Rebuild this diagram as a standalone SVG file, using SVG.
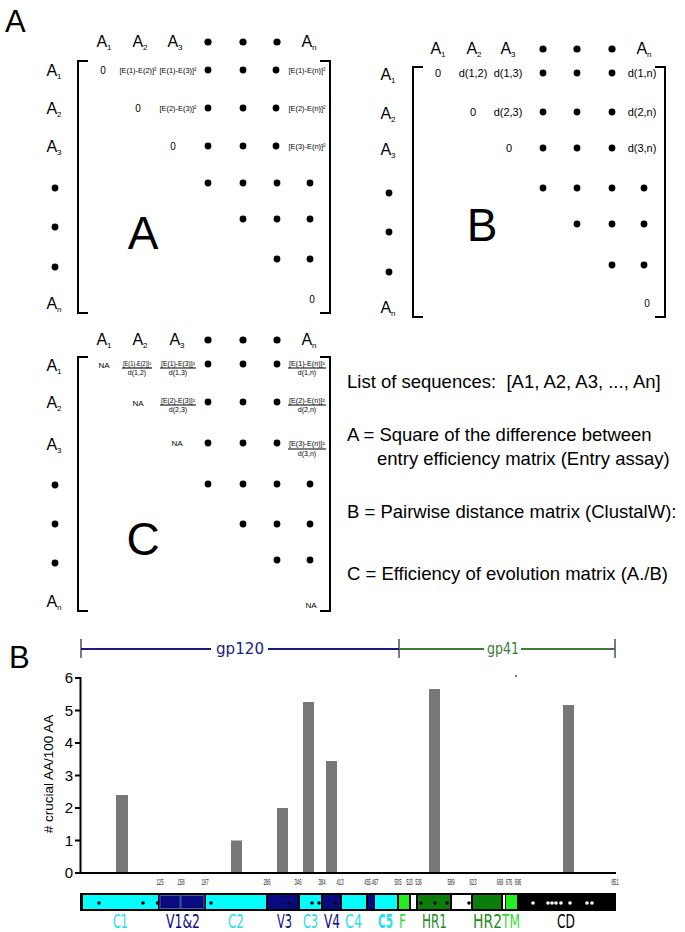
<svg xmlns="http://www.w3.org/2000/svg" width="685" height="932" viewBox="0 0 685 932">
<style>
text{font-family:"Liberation Sans",Arial,sans-serif;fill:#000}
.hd{font-size:16px;text-anchor:middle}
.sb{font-size:8px}
.e{font-size:7.4px;text-anchor:middle}
.z{font-size:10px;text-anchor:middle}
.d{font-size:11px;text-anchor:middle}
.na{font-size:8px;text-anchor:middle}
.fn{font-size:6.5px;text-anchor:middle}
.fd{font-size:7px;text-anchor:middle}
.fl{stroke:#000;stroke-width:1.1}
.br{fill:none;stroke:#000;stroke-width:2}
.big{font-size:46px;text-anchor:middle}
.pl{font-size:31px}
.lg{font-size:18.5px}
.cn{font-family:"DejaVu Sans Condensed","Liberation Sans Narrow","Liberation Sans",sans-serif}
.tk{font-size:9.5px;text-anchor:middle;fill:#222}
.ax{font-size:15px;text-anchor:end}
.gl{font-size:20px}
.bar{fill:#777}
.dt{fill:#000}
.cy{fill:#00ffff}
.nv{fill:#0a0a80}
.gr{fill:#0b7d0b}
.lm{fill:#22ee22}
.wh{fill:#fff}
</style>

<g id="panelA-label"><text class="pl" x="5" y="32">A</text></g>

<g id="matrixA">
  <text class="hd" x="104" y="47">A<tspan class="sb" dy="3">1</tspan></text>
  <text class="hd" x="140" y="47">A<tspan class="sb" dy="3">2</tspan></text>
  <text class="hd" x="175" y="47">A<tspan class="sb" dy="3">3</tspan></text>
  <circle class="dt" cx="208" cy="42" r="3.6"/><circle class="dt" cx="243" cy="42" r="3.6"/><circle class="dt" cx="277" cy="42" r="3.6"/>
  <text class="hd" x="309" y="47">A<tspan class="sb" dy="3">n</tspan></text>
  <text class="hd" x="54" y="76">A<tspan class="sb" dy="3">1</tspan></text>
  <text class="hd" x="54" y="114">A<tspan class="sb" dy="3">2</tspan></text>
  <text class="hd" x="54" y="152">A<tspan class="sb" dy="3">3</tspan></text>
  <circle class="dt" cx="55" cy="188" r="3.4"/><circle class="dt" cx="55" cy="227" r="3.4"/><circle class="dt" cx="55" cy="267" r="3.4"/>
  <text class="hd" x="54" y="309">A<tspan class="sb" dy="3">n</tspan></text>
  <path class="br" d="M88,61 H78 V313 H88"/>
  <path class="br" d="M320,61 H330 V313 H320"/>
  <text class="z" x="103" y="74">0</text>
  <text class="e" x="138" y="72.5">[E(1)-E(2)]²</text>
  <text class="e" x="178" y="72.5">[E(1)-E(3)]²</text>
  <circle class="dt" cx="208" cy="70" r="3.4"/><circle class="dt" cx="243" cy="70" r="3.4"/><circle class="dt" cx="276" cy="70" r="3.4"/>
  <text class="e" x="307" y="72.5">[E(1)-E(n)]²</text>
  <text class="z" x="138" y="112">0</text>
  <text class="e" x="178" y="110.5">[E(2)-E(3)]²</text>
  <circle class="dt" cx="208" cy="108" r="3.4"/><circle class="dt" cx="243" cy="108" r="3.4"/><circle class="dt" cx="276" cy="108" r="3.4"/>
  <text class="e" x="307" y="110.5">[E(2)-E(n)]²</text>
  <text class="z" x="173" y="150">0</text>
  <circle class="dt" cx="208" cy="146" r="3.4"/><circle class="dt" cx="243" cy="146" r="3.4"/><circle class="dt" cx="276" cy="146" r="3.4"/>
  <text class="e" x="307" y="148.5">[E(3)-E(n)]²</text>
  <circle class="dt" cx="208" cy="183" r="3.4"/><circle class="dt" cx="243" cy="183" r="3.4"/><circle class="dt" cx="277" cy="183" r="3.4"/><circle class="dt" cx="310" cy="183" r="3.4"/>
  <circle class="dt" cx="243" cy="219" r="3.4"/><circle class="dt" cx="277" cy="219" r="3.4"/><circle class="dt" cx="310" cy="219" r="3.4"/>
  <circle class="dt" cx="277" cy="259" r="3.4"/><circle class="dt" cx="310" cy="259" r="3.4"/>
  <text class="z" x="312" y="303">0</text>
  <text class="big" x="143" y="249">A</text>
</g>

<g id="matrixB">
  <text class="hd" x="438" y="54">A<tspan class="sb" dy="3">1</tspan></text>
  <text class="hd" x="474" y="54">A<tspan class="sb" dy="3">2</tspan></text>
  <text class="hd" x="508" y="54">A<tspan class="sb" dy="3">3</tspan></text>
  <circle class="dt" cx="543" cy="49" r="3.6"/><circle class="dt" cx="577" cy="49" r="3.6"/><circle class="dt" cx="612" cy="49" r="3.6"/>
  <text class="hd" x="644" y="54">A<tspan class="sb" dy="3">n</tspan></text>
  <text class="hd" x="388" y="80">A<tspan class="sb" dy="3">1</tspan></text>
  <text class="hd" x="388" y="119">A<tspan class="sb" dy="3">2</tspan></text>
  <text class="hd" x="388" y="155">A<tspan class="sb" dy="3">3</tspan></text>
  <circle class="dt" cx="389" cy="193" r="3.4"/><circle class="dt" cx="389" cy="232" r="3.4"/><circle class="dt" cx="389" cy="272" r="3.4"/>
  <text class="hd" x="388" y="313">A<tspan class="sb" dy="3">n</tspan></text>
  <path class="br" d="M423,67 H413 V317 H423"/>
  <path class="br" d="M655,67 H665 V317 H655"/>
  <text class="d" x="438" y="77">0</text>
  <text class="d" x="473" y="77">d(1,2)</text>
  <text class="d" x="508" y="77">d(1,3)</text>
  <circle class="dt" cx="543" cy="73" r="3.4"/><circle class="dt" cx="577" cy="73" r="3.4"/><circle class="dt" cx="612" cy="73" r="3.4"/>
  <text class="d" x="642" y="77">d(1,n)</text>
  <text class="d" x="473" y="116">0</text>
  <text class="d" x="508" y="116">d(2,3)</text>
  <circle class="dt" cx="543" cy="112" r="3.4"/><circle class="dt" cx="577" cy="112" r="3.4"/><circle class="dt" cx="612" cy="112" r="3.4"/>
  <text class="d" x="642" y="116">d(2,n)</text>
  <text class="d" x="509" y="152">0</text>
  <circle class="dt" cx="543" cy="148" r="3.4"/><circle class="dt" cx="577" cy="148" r="3.4"/><circle class="dt" cx="612" cy="148" r="3.4"/>
  <text class="d" x="642" y="152">d(3,n)</text>
  <circle class="dt" cx="543" cy="188" r="3.4"/><circle class="dt" cx="577" cy="188" r="3.4"/><circle class="dt" cx="612" cy="188" r="3.4"/><circle class="dt" cx="644" cy="188" r="3.4"/>
  <circle class="dt" cx="577" cy="224" r="3.4"/><circle class="dt" cx="612" cy="224" r="3.4"/><circle class="dt" cx="644" cy="224" r="3.4"/>
  <circle class="dt" cx="612" cy="265" r="3.4"/><circle class="dt" cx="644" cy="265" r="3.4"/>
  <text class="z" x="647" y="307">0</text>
  <text class="big" x="482" y="241">B</text>
</g>

<g id="matrixC">
  <text class="hd" x="104" y="345">A<tspan class="sb" dy="3">1</tspan></text>
  <text class="hd" x="140" y="345">A<tspan class="sb" dy="3">2</tspan></text>
  <text class="hd" x="177" y="345">A<tspan class="sb" dy="3">3</tspan></text>
  <circle class="dt" cx="208" cy="340" r="3.6"/><circle class="dt" cx="243" cy="340" r="3.6"/><circle class="dt" cx="277" cy="340" r="3.6"/>
  <text class="hd" x="309" y="345">A<tspan class="sb" dy="3">n</tspan></text>
  <text class="hd" x="54" y="371">A<tspan class="sb" dy="3">1</tspan></text>
  <text class="hd" x="54" y="408">A<tspan class="sb" dy="3">2</tspan></text>
  <text class="hd" x="54" y="450">A<tspan class="sb" dy="3">3</tspan></text>
  <circle class="dt" cx="55" cy="485" r="3.4"/><circle class="dt" cx="55" cy="524" r="3.4"/><circle class="dt" cx="55" cy="563" r="3.4"/>
  <text class="hd" x="54" y="607">A<tspan class="sb" dy="3">n</tspan></text>
  <path class="br" d="M88,357 H78 V611 H88"/>
  <path class="br" d="M320,357 H330 V611 H320"/>
  <text class="na" x="104" y="368">NA</text>
  <text class="fn" x="137" y="366" textLength="28" lengthAdjust="spacingAndGlyphs">[E(1)-E(2)]²</text>
  <line class="fl" x1="122" y1="368" x2="152" y2="368"/>
  <text class="fd" x="137" y="375">d(1,2)</text>
  <text class="fn" x="178" y="366" textLength="34" lengthAdjust="spacingAndGlyphs">[E(1)-E(3)]²</text>
  <line class="fl" x1="160" y1="368" x2="196" y2="368"/>
  <text class="fd" x="178" y="375">d(1,3)</text>
  <circle class="dt" cx="208" cy="364" r="3.4"/><circle class="dt" cx="243" cy="364" r="3.4"/><circle class="dt" cx="277" cy="364" r="3.4"/>
  <text class="fn" x="307" y="366" textLength="36" lengthAdjust="spacingAndGlyphs">[E(1)-E(n)]²</text>
  <line class="fl" x1="288" y1="368" x2="326" y2="368"/>
  <text class="fd" x="307" y="375">d(1,n)</text>
  <text class="na" x="138" y="406">NA</text>
  <text class="fn" x="178" y="403" textLength="34" lengthAdjust="spacingAndGlyphs">[E(2)-E(3)]²</text>
  <line class="fl" x1="160" y1="405" x2="196" y2="405"/>
  <text class="fd" x="178" y="412">d(2,3)</text>
  <circle class="dt" cx="208" cy="402" r="3.4"/><circle class="dt" cx="243" cy="402" r="3.4"/><circle class="dt" cx="277" cy="402" r="3.4"/>
  <text class="fn" x="307" y="403" textLength="36" lengthAdjust="spacingAndGlyphs">[E(2)-E(n)]²</text>
  <line class="fl" x1="288" y1="405" x2="326" y2="405"/>
  <text class="fd" x="307" y="412">d(2,n)</text>
  <text class="na" x="177" y="446">NA</text>
  <circle class="dt" cx="208" cy="443" r="3.4"/><circle class="dt" cx="243" cy="443" r="3.4"/><circle class="dt" cx="277" cy="443" r="3.4"/>
  <text class="fn" x="307" y="446" textLength="36" lengthAdjust="spacingAndGlyphs">[E(3)-E(n)]²</text>
  <line class="fl" x1="288" y1="449" x2="326" y2="449"/>
  <text class="fd" x="307" y="456">d(3,n)</text>
  <circle class="dt" cx="208" cy="484" r="3.4"/><circle class="dt" cx="243" cy="484" r="3.4"/><circle class="dt" cx="277" cy="484" r="3.4"/><circle class="dt" cx="310" cy="484" r="3.4"/>
  <circle class="dt" cx="243" cy="524" r="3.4"/><circle class="dt" cx="277" cy="524" r="3.4"/><circle class="dt" cx="310" cy="524" r="3.4"/>
  <circle class="dt" cx="277" cy="560" r="3.4"/><circle class="dt" cx="310" cy="560" r="3.4"/>
  <text class="na" x="311" y="608">NA</text>
  <text class="big" x="143" y="555">C</text>
</g>

<g id="legend">
  <text class="lg" x="347" y="388" xml:space="preserve">List of sequences:  [A1, A2, A3, ..., An]</text>
  <text class="lg" x="347" y="441">A = Square of the difference between</text>
  <text class="lg" x="377" y="465">entry efficiency matrix (Entry assay)</text>
  <text class="lg" x="347" y="518">B = Pairwise distance matrix (ClustalW):</text>
  <text class="lg" x="347" y="580">C = Efficiency of evolution matrix (A./B)</text>
</g>

<g id="panelB-label"><text class="pl" x="9" y="668">B</text></g>

<g id="gp-scale">
  <g stroke="#333" stroke-width="1.3">
    <line x1="81" y1="639" x2="81" y2="658"/>
    <line x1="399" y1="639" x2="399" y2="658"/>
    <line x1="615" y1="639" x2="615" y2="658"/>
  </g>
  <g stroke="#1a1a80" stroke-width="2">
    <line x1="81" y1="649" x2="211" y2="649"/>
    <line x1="268" y1="649" x2="399" y2="649"/>
  </g>
  <g stroke="#3b7a3b" stroke-width="2">
    <line x1="399" y1="649" x2="484" y2="649"/>
    <line x1="521" y1="649" x2="615" y2="649"/>
  </g>
  <text class="cn" x="240" y="654" font-size="15" text-anchor="middle" style="fill:#1a1a80" textLength="48" lengthAdjust="spacingAndGlyphs">gp120</text>
  <text class="cn" x="503" y="654" font-size="15" text-anchor="middle" style="fill:#3b7a3b" textLength="32" lengthAdjust="spacingAndGlyphs">gp41</text>
  <circle cx="516" cy="676" r="0.9" fill="#333"/>
</g>

<g id="chart">
  <rect class="bar" x="116" y="795" width="12" height="78"/>
  <rect class="bar" x="231" y="840.5" width="11" height="32.5"/>
  <rect class="bar" x="277" y="808" width="11" height="65"/>
  <rect class="bar" x="303" y="702" width="11" height="171"/>
  <rect class="bar" x="326" y="761" width="11" height="112"/>
  <rect class="bar" x="429" y="689" width="11" height="184"/>
  <rect class="bar" x="563" y="705" width="11" height="168"/>
  <g stroke="#000" stroke-width="2">
    <line x1="80.5" y1="677" x2="80.5" y2="874"/>
    <line x1="80" y1="873" x2="616" y2="873"/>
    <line x1="75" y1="678" x2="81" y2="678"/>
    <line x1="75" y1="710.5" x2="81" y2="710.5"/>
    <line x1="75" y1="743" x2="81" y2="743"/>
    <line x1="75" y1="775.5" x2="81" y2="775.5"/>
    <line x1="75" y1="808" x2="81" y2="808"/>
    <line x1="75" y1="840.5" x2="81" y2="840.5"/>
    <line x1="75" y1="873" x2="81" y2="873"/>
  </g>
  <text class="ax" x="73" y="683">6</text>
  <text class="ax" x="73" y="715.5">5</text>
  <text class="ax" x="73" y="748">4</text>
  <text class="ax" x="73" y="780.5">3</text>
  <text class="ax" x="73" y="813">2</text>
  <text class="ax" x="73" y="845.5">1</text>
  <text class="ax" x="73" y="878">0</text>
  <text transform="translate(53,774) rotate(-90)" font-size="13.5" text-anchor="middle">#&#160;crucial AA/100 AA</text>
  <g class="cn">
    <text class="tk" x="160" y="885" textLength="7" lengthAdjust="spacingAndGlyphs">125</text>
    <text class="tk" x="181" y="885" textLength="7" lengthAdjust="spacingAndGlyphs">158</text>
    <text class="tk" x="205" y="885" textLength="7" lengthAdjust="spacingAndGlyphs">197</text>
    <text class="tk" x="267" y="885" textLength="7" lengthAdjust="spacingAndGlyphs">286</text>
    <text class="tk" x="298" y="885" textLength="7" lengthAdjust="spacingAndGlyphs">346</text>
    <text class="tk" x="322" y="885" textLength="7" lengthAdjust="spacingAndGlyphs">384</text>
    <text class="tk" x="340" y="885" textLength="7" lengthAdjust="spacingAndGlyphs">413</text>
    <text class="tk" x="367.5" y="885" textLength="6.5" lengthAdjust="spacingAndGlyphs">455</text>
    <text class="tk" x="375" y="885" textLength="6.5" lengthAdjust="spacingAndGlyphs">467</text>
    <text class="tk" x="398" y="885" textLength="7" lengthAdjust="spacingAndGlyphs">505</text>
    <text class="tk" x="409.5" y="885" textLength="6.5" lengthAdjust="spacingAndGlyphs">523</text>
    <text class="tk" x="418.5" y="885" textLength="6.5" lengthAdjust="spacingAndGlyphs">536</text>
    <text class="tk" x="451" y="885" textLength="7" lengthAdjust="spacingAndGlyphs">589</text>
    <text class="tk" x="473" y="885" textLength="7" lengthAdjust="spacingAndGlyphs">623</text>
    <text class="tk" x="500" y="885" textLength="6.5" lengthAdjust="spacingAndGlyphs">669</text>
    <text class="tk" x="509" y="885" textLength="6.5" lengthAdjust="spacingAndGlyphs">676</text>
    <text class="tk" x="518" y="885" textLength="6.5" lengthAdjust="spacingAndGlyphs">696</text>
    <text class="tk" x="615" y="885" textLength="7" lengthAdjust="spacingAndGlyphs">851</text>
  </g>
</g>

<g id="genome-bar">
  <rect x="80" y="893" width="536" height="18" fill="#000"/>
  <rect class="cy" x="83" y="895" width="75" height="14"/>
  <rect class="nv" x="160" y="895.5" width="20" height="13" stroke="#3a64b0" stroke-width="1"/>
  <rect class="nv" x="181" y="895.5" width="23" height="13" stroke="#3a64b0" stroke-width="1"/>
  <rect class="cy" x="206" y="895" width="60" height="14"/>
  <rect class="nv" x="268" y="895" width="30" height="14"/>
  <rect class="cy" x="300" y="895" width="21" height="14"/>
  <rect class="nv" x="323" y="895" width="17" height="14"/>
  <rect class="cy" x="342" y="895" width="24" height="14"/>
  <rect class="nv" x="368" y="895" width="6" height="14"/>
  <rect class="cy" x="375" y="895" width="22" height="14"/>
  <rect class="lm" x="399" y="895" width="10" height="14"/>
  <rect class="wh" x="411" y="895" width="5" height="14"/>
  <rect class="gr" x="418" y="895" width="32" height="14"/>
  <rect class="wh" x="452" y="895" width="19" height="14"/>
  <rect class="gr" x="473" y="895" width="28" height="14"/>
  <rect class="wh" x="503" y="895" width="2" height="14"/>
  <rect class="lm" x="506" y="895" width="11" height="14"/>
  <g fill="#000">
    <circle cx="99" cy="903" r="1.8"/><circle cx="143" cy="903" r="1.8"/><circle cx="157.5" cy="903" r="1.8"/>
    <circle cx="211" cy="903" r="1.8"/><circle cx="289" cy="903" r="1.8"/>
    <circle cx="312" cy="903" r="1.8"/><circle cx="319" cy="903" r="1.8"/><circle cx="335" cy="903" r="1.8"/>
    <circle cx="421" cy="903" r="1.8"/><circle cx="435" cy="903" r="1.8"/><circle cx="447" cy="903" r="1.8"/>
    <circle cx="469" cy="903" r="1.8"/>
  </g>
  <g fill="#fff">
    <circle cx="533" cy="903" r="1.8"/><circle cx="548" cy="903" r="1.8"/><circle cx="552" cy="903" r="1.8"/><circle cx="556" cy="903" r="1.8"/><circle cx="561" cy="903" r="1.8"/><circle cx="570" cy="903" r="1.8"/><circle cx="587" cy="903" r="1.8"/><circle cx="592" cy="903" r="1.8"/>
  </g>
</g>

<g id="genome-labels" class="cn">
  <text class="gl cn" x="113" y="928" style="fill:#22e0ee" textLength="15" lengthAdjust="spacingAndGlyphs">C1</text>
  <text class="gl cn" x="166" y="928" style="fill:#0a0a80" textLength="34" lengthAdjust="spacingAndGlyphs">V1&amp;2</text>
  <text class="gl cn" x="228" y="928" style="fill:#22e0ee" textLength="16" lengthAdjust="spacingAndGlyphs">C2</text>
  <text class="gl cn" x="277" y="928" style="fill:#0a0a80" textLength="15" lengthAdjust="spacingAndGlyphs">V3</text>
  <text class="gl cn" x="303" y="928" style="fill:#22e0ee" textLength="15" lengthAdjust="spacingAndGlyphs">C3</text>
  <text class="gl cn" x="324" y="928" style="fill:#0a0a80" textLength="16" lengthAdjust="spacingAndGlyphs">V4</text>
  <text class="gl cn" x="345" y="928" style="fill:#22e0ee" textLength="17" lengthAdjust="spacingAndGlyphs">C4</text>
  <text class="gl cn" x="378" y="928" style="fill:#22e0ee;font-weight:bold" textLength="15" lengthAdjust="spacingAndGlyphs">C5</text>
  <text class="gl cn" x="399" y="928" style="fill:#33dd33" textLength="7" lengthAdjust="spacingAndGlyphs">F</text>
  <text class="gl cn" x="422" y="928" style="fill:#1f8a1f" textLength="25" lengthAdjust="spacingAndGlyphs">HR1</text>
  <text class="gl cn" x="473" y="928" style="fill:#1f8a1f" textLength="29" lengthAdjust="spacingAndGlyphs">HR2</text>
  <text class="gl cn" x="502" y="928" style="fill:#33dd33" textLength="18" lengthAdjust="spacingAndGlyphs">TM</text>
  <text class="gl cn" x="557" y="928" style="fill:#000" textLength="18" lengthAdjust="spacingAndGlyphs">CD</text>
</g>
</svg>
